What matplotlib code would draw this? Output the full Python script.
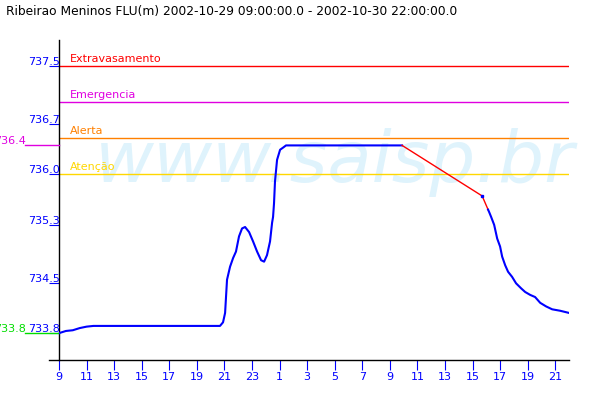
import matplotlib
matplotlib.use('Agg')
import matplotlib.pyplot as plt
import matplotlib.transforms as mtransforms
import numpy as np

title = "Ribeirao Meninos FLU(m) 2002-10-29 09:00:00.0 - 2002-10-30 22:00:00.0"

# hours since 2002-10-29 09:00
hours_a = [0.0, 0.5, 1.0, 1.5, 2.0, 2.5, 5.0, 8.0, 11.0, 11.68, 11.9, 12.05, 12.19, 12.41,
           12.63, 12.84, 13.06, 13.28, 13.50, 13.79, 14.08, 14.37, 14.66, 14.88, 15.09,
           15.31, 15.46, 15.53, 15.60, 15.67, 15.82, 16.04, 16.26, 16.47, 20.0, 24.89]
level_a = [733.80, 733.83, 733.84, 733.87, 733.89, 733.90, 733.90, 733.90, 733.90, 733.90,
           733.95, 734.08, 734.54, 734.72, 734.84, 734.93, 735.14, 735.25, 735.27, 735.20,
           735.07, 734.93, 734.81, 734.79, 734.88, 735.07, 735.33, 735.41, 735.60, 735.90,
           736.20, 736.34, 736.37, 736.40, 736.40, 736.40]

hours_gap = [24.89, 30.70, 31.13]
level_gap = [736.40, 735.70, 735.51]

hours_b = [31.13, 31.20, 31.35, 31.57, 31.79, 32.00, 32.15, 32.37, 32.58, 32.87, 33.16,
           33.53, 33.82, 34.18, 34.54, 34.91, 35.34, 35.78, 36.36, 37.0]
level_b = [735.51, 735.48, 735.41, 735.30, 735.11, 735.00, 734.86, 734.74, 734.65, 734.58,
           734.49, 734.42, 734.37, 734.33, 734.30, 734.22, 734.17, 734.13, 734.11, 734.08]

thresholds = [737.5, 737.0, 736.5, 736.0]
threshold_names = ["Extravasamento", "Emergencia", "Alerta", "Atenção"]
threshold_colors = ["#FF0000", "#E000E0", "#FF8000", "#FFD700"]

ytick_vals = [733.8, 734.5, 735.3, 736.0, 736.7, 737.5]
ytick_labels = ["733.8", "734.5", "735.3", "736.0", "736.7", "737.5"]
xtick_hours = list(range(0, 37, 2))
xtick_labels = [str((9 + h) % 24) for h in xtick_hours]

max_level = 736.4
min_level = 733.8

W, H = 600, 400
fig = plt.figure(figsize=(6, 4), dpi=100)
ax = fig.add_axes([59 / W, 40 / H, 510 / W, 320 / H])
ax.patch.set_visible(False)
ax.set_xlim(0, 37)
ax.set_ylim(733.428, 737.86)

# watermark
ax.text((95 - 59) / 510, (360 - 182) / 320, "www.saisp.br", transform=ax.transAxes,
        fontsize=52, style='italic', color='#DFF3FC', va='baseline', ha='left',
        zorder=0, clip_on=False)

# threshold lines
for v, name, c in zip(thresholds, threshold_names, threshold_colors):
    ax.axhline(v, color=c, lw=1, zorder=2)
    tr = mtransforms.offset_copy(ax.get_yaxis_transform(), fig=fig, x=0, y=4, units='dots')
    ax.text((70 - 59) / 510, v, name, transform=tr, color=c, fontsize=8,
            ha='left', va='baseline', zorder=3)

# data
ax.plot(hours_a, level_a, color='#0000FF', lw=1.5, zorder=4)
ax.plot(hours_gap, level_gap, color='#FF0000', lw=1, zorder=4)
ax.plot(hours_b, level_b, color='#0000FF', lw=1.5, zorder=4)
ax.plot([hours_gap[1]], [level_gap[1]], 's', color='#0000FF', ms=2, zorder=5)

# spines
for s in ['top', 'right', 'bottom']:
    ax.spines[s].set_visible(False)
ax.spines['left'].set_color('black')
ax.spines['left'].set_linewidth(1)
ax.plot([-10 / 510, 1.0], [0, 0], transform=ax.transAxes, color='black', lw=1,
        clip_on=False, zorder=5)

# ticks
ax.set_xticks(xtick_hours)
ax.set_xticklabels(xtick_labels)
ax.set_yticks(ytick_vals)
ax.set_yticklabels([])
ax.tick_params(axis='both', direction='out', length=7.2, width=0.8, color='#0000FF',
               labelcolor='#0000FF', labelsize=8, pad=1.5)

ytr = mtransforms.offset_copy(ax.get_yaxis_transform(), fig=fig, x=1, y=1, units='dots')
for v, lbl in zip(ytick_vals, ytick_labels):
    ax.text(0, v, lbl, transform=ytr, ha='right', va='baseline', color='#0000FF',
            fontsize=8, clip_on=False)

# max / min markers on the left
for v, c in [(max_level, '#E000E0'), (min_level, '#00DD00')]:
    ax.plot([(25 - 59) / 510, 0], [v, v], transform=ax.get_yaxis_transform(), color=c,
            lw=1, clip_on=False, zorder=3)
    ax.text((25 - 59) / 510, v, f"{v:.1f}", transform=ytr, ha='right', va='baseline',
            color=c, fontsize=8, clip_on=False)

fig.text(6 / W, 1 - 11 / H, title, fontsize=8.8, va='center', ha='left', color='black')

fig.savefig('out.png', dpi=100)
